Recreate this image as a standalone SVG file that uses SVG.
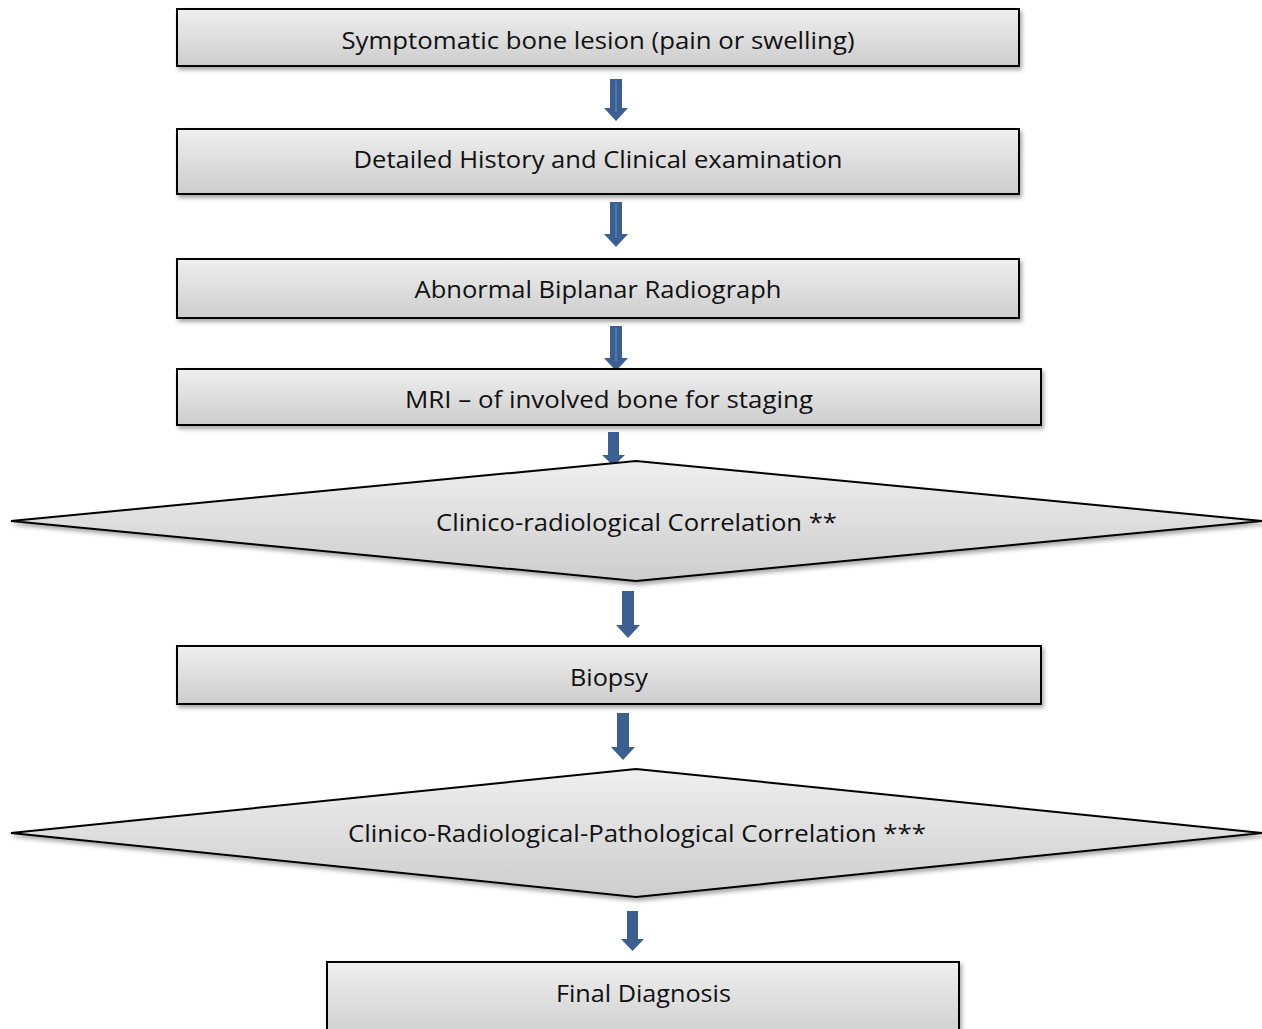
<svg xmlns="http://www.w3.org/2000/svg" width="1262" height="1029" viewBox="0 0 1262 1029">
<defs>
<linearGradient id="g" x1="0" y1="0" x2="0" y2="1">
<stop offset="0" stop-color="#efefef"/>
<stop offset="1" stop-color="#cdcdcd"/>
</linearGradient>
<filter id="sh" x="-5%" y="-20%" width="110%" height="150%">
<feDropShadow dx="2" dy="3" stdDeviation="2" flood-color="#000" flood-opacity="0.35"/>
</filter>
<style>
.n{fill:url(#g);stroke:#000;stroke-width:2;filter:url(#sh)}
.t{font-family:"Open Sans","Liberation Sans",sans-serif;font-size:24px;fill:#111;text-anchor:middle;dominant-baseline:central}
.a{fill:#3b5f91}
.al{stroke:#5e86bf;stroke-width:1.2}
</style>
</defs>
<rect width="1262" height="1029" fill="#fff"/>
<g id="connectors">
<g><polygon class="a" points="610,79 622,79 622,108 628,108 616,121 604,108 610,108"/><line class="al" x1="616" y1="81" x2="616" y2="112"/></g>
<g><polygon class="a" points="610,202 622,202 622,234 628,234 616,247 604,234 610,234"/><line class="al" x1="616" y1="204" x2="616" y2="238"/></g>
<g><polygon class="a" points="610,326 622,326 622,358 628,358 616,371 604,358 610,358"/><line class="al" x1="616" y1="328" x2="616" y2="362"/></g>
<g><polygon class="a" points="608,432 619,432 619,455 625,455 613.5,466 602,455 608,455"/></g>
<g><polygon class="a" points="622,591 634,591 634,625 640,625 628,638 616,625 622,625"/></g>
<g><polygon class="a" points="617,713 629,713 629,747 635,747 623,760 611,747 617,747"/></g>
<g><polygon class="a" points="627,911 638,911 638,939 644,939 632.5,951 621,939 627,939"/></g>
</g>
<g id="n1"><rect class="n" x="177" y="9" width="842" height="57"/><text class="t" x="598" y="39" textLength="513" lengthAdjust="spacingAndGlyphs">Symptomatic bone lesion (pain or swelling)</text></g>
<g id="n2"><rect class="n" x="177" y="129" width="842" height="65"/><text class="t" x="598" y="158" textLength="489" lengthAdjust="spacingAndGlyphs">Detailed History and Clinical examination</text></g>
<g id="n3"><rect class="n" x="177" y="259" width="842" height="59"/><text class="t" x="598" y="288" textLength="367" lengthAdjust="spacingAndGlyphs">Abnormal Biplanar Radiograph</text></g>
<g id="n4"><rect class="n" x="177" y="369" width="864" height="56"/><text class="t" x="609" y="398" textLength="408" lengthAdjust="spacingAndGlyphs">MRI – of involved bone for staging</text></g>
<g id="n5"><polygon class="n" points="11,521 636,461 1262,521 636,581"/><text class="t" x="636.5" y="521" textLength="401" lengthAdjust="spacingAndGlyphs">Clinico-radiological Correlation **</text></g>
<g id="n6"><rect class="n" x="177" y="646" width="864" height="58"/><text class="t" x="609" y="676" textLength="78" lengthAdjust="spacingAndGlyphs">Biopsy</text></g>
<g id="n7"><polygon class="n" points="11,833 636,769 1262,833 636,897"/><text class="t" x="637" y="832" textLength="578" lengthAdjust="spacingAndGlyphs">Clinico-Radiological-Pathological Correlation ***</text></g>
<g id="n8"><rect class="n" x="327" y="962" width="632" height="80"/><text class="t" x="643.5" y="992" textLength="175" lengthAdjust="spacingAndGlyphs">Final Diagnosis</text></g>
</svg>
